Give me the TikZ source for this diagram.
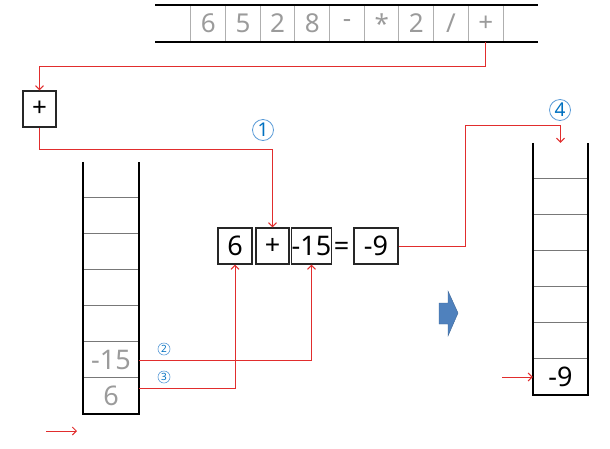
\documentclass[tikz,border=0pt]{standalone}
\usepackage{fontspec}
\setmainfont{Noto Sans}
\definecolor{linkred}{RGB}{225, 45, 45}
\definecolor{tokgray}{RGB}{155, 155, 155}
\definecolor{cellgray}{RGB}{120, 120, 120}
\definecolor{numblue}{RGB}{0, 112, 192}
\definecolor{ringblue}{RGB}{90, 155, 215}
\definecolor{arrowblue}{RGB}{79, 129, 189}
\usetikzlibrary{arrows.meta, positioning, calc}

\begin{document}
\begin{tikzpicture}[x=1pt, y=-1pt,
  tok/.style={minimum width=34.67pt, minimum height=37pt, inner sep=0pt, text=tokgray, font=\fontsize{26}{26}\selectfont},
  opbox/.style={draw=black!85, line width=1.2pt, minimum height=36pt, inner sep=0pt, font=\fontsize{27}{27}\selectfont},
  cell/.style={minimum height=36pt, inner sep=0pt, font=\fontsize{27}{27}\selectfont},
  link/.style={draw=linkred, line width=1pt},
  arr/.style={link, -{Straight Barb[length=4pt, width=8pt]}},
  ring/.style={circle, draw=ringblue, line width=0.8pt, inner sep=0pt, minimum size=21pt, text=numblue, font=\bfseries\fontsize{19}{19}\selectfont},
  smallring/.style={ring, minimum size=12pt, line width=0.6pt, font=\fontsize{10}{10}\selectfont},
  wall/.style={line width=2.4pt}
]
  \useasboundingbox (0,0) rectangle (610,448);

  % Input tokens
  \foreach \tk [count=\i] in {6,5,2,8,-,*,2,/,+}
    \node[tok] (t\i) at ({191+34.67*(\i-0.5)}, 23.5) {\tk};
  \foreach \i in {1,...,9}
    \draw[tokgray!80, line width=1pt] (t\i.north west) -- (t\i.south west);
  \draw[tokgray!80, line width=1pt] (t9.north east) -- (t9.south east);
  \draw[line width=1.4pt] (155,5) -- (538,5);
  \draw[line width=1.4pt] (155,42) -- (538,42);

  % Current operator
  \node[opbox, minimum width=33pt, font=\fontsize{26}{26}\selectfont] (op) at (39.5,109) {+};
  \draw[arr] (t9.south) -- ++(0,24) -| (op.north);

  % Expression
  \node[opbox, minimum width=34pt] (e6) at (235,246) {6};
  \node[opbox, minimum width=33pt] (eplus) at (272.5,246) {+};
  \node[opbox, minimum width=39pt] (em15) at (311.5,246) {-15};
  \node[font=\fontsize{27}{27}\selectfont, inner sep=0pt, anchor=base] (eq) at (341.5,255) {=};
  \node[opbox, minimum width=44pt] (res) at (376,246) {-9};

  \draw[arr] (op.south) -- ++(0,22) -| (eplus.north);
  \node[ring] (n1) at (263,130) {1};

  % Left stack
  \foreach \v [count=\i] in {6,-15,{},{},{},{},{}}
    \node[cell, minimum width=56pt, text=tokgray] (ls\i) at (111,{396-36*(\i-1)}) {\v};
  \foreach \i in {1,...,6}
    \draw[cellgray, line width=0.8pt] (ls\i.north west) -- (ls\i.north east);
  \draw[wall] (ls7.north west) -- (ls1.south west) -- (ls1.south east) -- (ls7.north east);

  \draw[arr] (ls2.east) -| (em15.south);
  \draw[arr] ([yshift=8pt]ls1.east) -| (e6.south);
  \node[smallring] (n2) at (164,349) {2};
  \node[smallring] (n3) at (164,377) {3};

  % Right stack
  \foreach \v [count=\i] in {-9,{},{},{},{},{},{}}
    \node[cell, minimum width=55pt] (rs\i) at (560.5,{377-36*(\i-1)}) {\v};
  \foreach \i in {1,...,6}
    \draw[cellgray, line width=0.8pt] (rs\i.north west) -- (rs\i.north east);
  \draw[wall] (rs7.north west) -- (rs1.south west) -- (rs1.south east) -- (rs7.north east);

  \draw[arr] (res.east) -- ++(67,0) |- ($(rs7.north)+(0,-17)$) -- (rs7.north);
  \node[ring] (n4) at (560,110) {4};

  % Push / pop markers
  \coordinate (pushin) at (502,377);
  \draw[arr] (pushin) -- (rs1.west);
  \coordinate (popa) at (46,431);
  \coordinate (popb) at (77,431);
  \draw[arr] (popa) -- (popb);

  % Block arrow
  \fill[arrowblue, draw=arrowblue!80!black, line width=0.4pt] (439,303) -- (448,303) -- (448,291) -- (458,313) -- (448,336) -- (448,324) -- (439,324) -- cycle;
\end{tikzpicture}
\end{document}
